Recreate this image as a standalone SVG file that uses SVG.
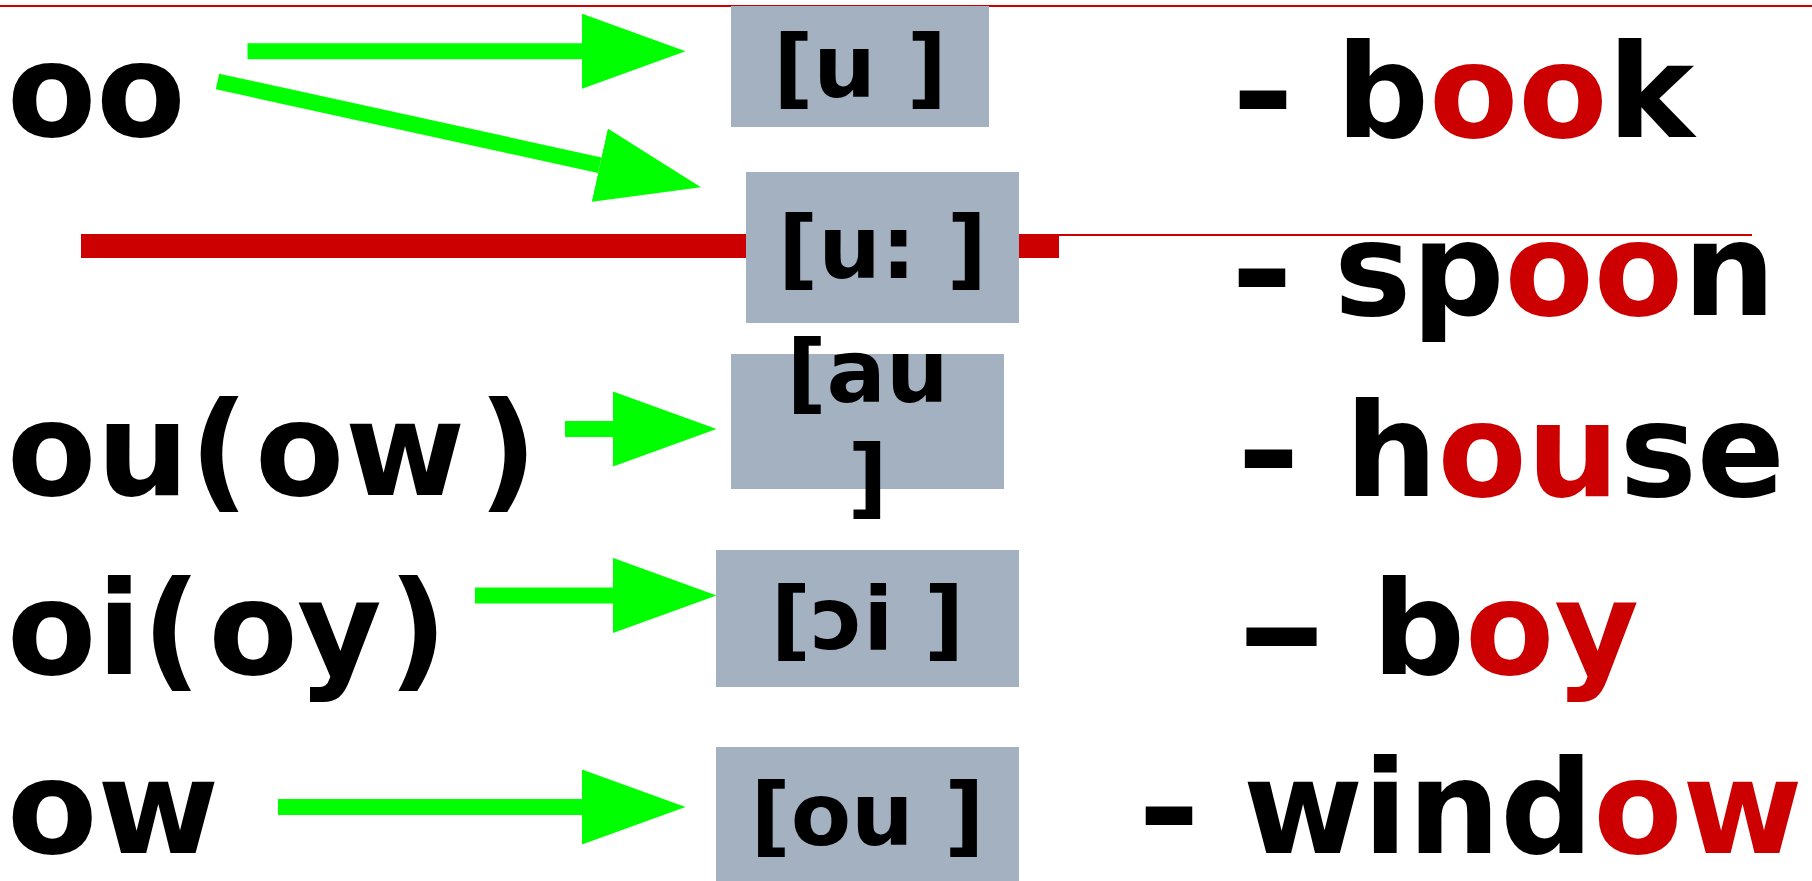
<svg xmlns="http://www.w3.org/2000/svg" width="1812" height="881" viewBox="0 0 1812 881">
<style>
text{font-family:"DejaVu Sans","Verdana",sans-serif;font-weight:bold;fill:#000}
.big{font-size:130px}
.ph{font-size:88px;text-anchor:middle}
.r{fill:#CC0000}
.box{fill:#A3B1C1}
.arr{stroke:#00FF00;stroke-width:16;fill:none;marker-end:url(#ah)}
</style>
<defs>
<marker id="ah" viewBox="0 0 6.47 4.69" markerWidth="6.47" markerHeight="4.69" markerUnits="strokeWidth" refX="0" refY="2.345" orient="auto">
<path d="M0,0 L6.47,2.345 L0,4.69 z" fill="#00FF00"/>
</marker>
</defs>
<rect width="1812" height="881" fill="#fff"/>
<g id="rules">
<rect x="0" y="5" width="1812" height="2" fill="#CC0000"/>
<rect x="81" y="234" width="978" height="24" fill="#CC0000"/>
<rect x="1019" y="234" width="733" height="2" fill="#CC0000"/>
</g>
<g id="connectors">
<line class="arr" x1="247.5" y1="51.2" x2="582" y2="51.2"/>
<line class="arr" x1="217.5" y1="81.5" x2="599.8" y2="165.2"/>
<line class="arr" x1="565" y1="429" x2="613" y2="429"/>
<line class="arr" x1="475" y1="595.4" x2="613" y2="595.4"/>
<line class="arr" x1="278" y1="807" x2="582" y2="807"/>
</g>
<g id="src-oo"><text class="big" x="7" y="136">oo</text></g>
<g id="src-ou"><text class="big" x="7 96.5 189.6 255 345 478" y="495">ou(ow)</text></g>
<g id="src-oi"><text class="big" x="7 97 142 208.6 297 388" y="674">oi(oy)</text></g>
<g id="src-ow"><text class="big" x="7" y="853" textLength="212" lengthAdjust="spacingAndGlyphs">ow</text></g>
<g id="ph-u"><rect class="box" x="731" y="6" width="258" height="121"/><text class="ph" x="860" y="97">[u ]</text></g>
<g id="ph-uu"><rect class="box" x="746" y="172" width="273" height="151"/><text class="ph" x="882.5" y="278">[u: ]</text></g>
<g id="ph-au"><rect class="box" x="731" y="354" width="273" height="135"/><text class="ph" x="867.5" y="402">[au</text><text class="ph" x="867.5" y="507">]</text></g>
<g id="ph-oi"><rect class="box" x="716" y="550" width="303" height="137"/><text class="ph" x="867.5" y="649">[ɔi ]</text></g>
<g id="ph-ou"><rect class="box" x="716" y="747" width="303" height="134"/><text class="ph" x="867.5" y="845">[ou ]</text></g>
<g id="ex-book"><text class="big" x="1231.6" y="136.5" textLength="63" lengthAdjust="spacingAndGlyphs">-</text><text class="big" x="1336" y="136.5">b<tspan class="r">oo</tspan>k</text></g>
<g id="ex-spoon"><text class="big" x="1230.6" y="315" textLength="63" lengthAdjust="spacingAndGlyphs">-</text><text class="big" x="1334" y="315">sp<tspan class="r">oo</tspan>n</text></g>
<g id="ex-house"><text class="big" x="1236.6" y="495.5" textLength="64" lengthAdjust="spacingAndGlyphs">-</text><text class="big" x="1345" y="495.5">h<tspan class="r">ou</tspan>se</text></g>
<g id="ex-boy"><text class="big" x="1234" y="674" textLength="95" lengthAdjust="spacingAndGlyphs">-</text><text class="big" x="1372" y="674">b<tspan class="r">oy</tspan></text></g>
<g id="ex-window"><text class="big" x="1137.6" y="853" textLength="63" lengthAdjust="spacingAndGlyphs">-</text><text class="big" x="1243" y="853">wind<tspan class="r">ow</tspan></text></g>
</svg>
